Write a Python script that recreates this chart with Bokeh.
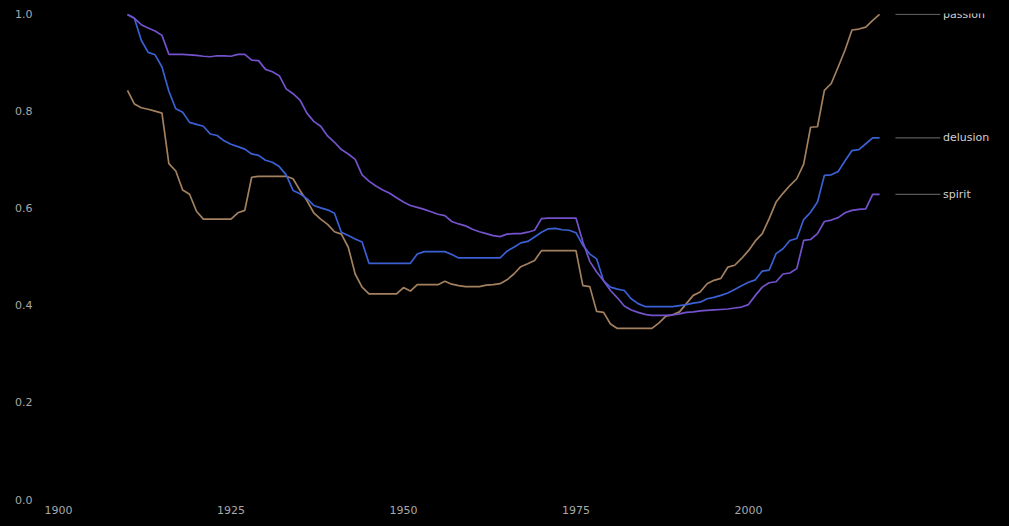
from bokeh.plotting import figure
from bokeh.models import Range1d, FixedTicker, ColumnDataSource
from bokeh.core.properties import value
from bokeh.embed import file_html
from bokeh.resources import INLINE

years = list(range(1910, 2020))

passion = [
    0.842, 0.814, 0.806, 0.803, 0.799, 0.795, 0.691, 0.676, 0.637, 0.628,
    0.593, 0.577, 0.577, 0.577, 0.577, 0.577, 0.590, 0.595, 0.663, 0.665,
    0.665, 0.665, 0.665, 0.665, 0.660, 0.636, 0.615, 0.590, 0.577, 0.566,
    0.551, 0.546, 0.519, 0.464, 0.437, 0.423, 0.423, 0.423, 0.423, 0.423,
    0.436, 0.429, 0.442, 0.442, 0.442, 0.442, 0.449, 0.443, 0.440, 0.438,
    0.438, 0.438, 0.441, 0.442, 0.444, 0.452, 0.464, 0.479, 0.485, 0.492,
    0.512, 0.512, 0.512, 0.512, 0.512, 0.512, 0.440, 0.438, 0.387, 0.385,
    0.361, 0.352, 0.352, 0.352, 0.352, 0.352, 0.352, 0.363, 0.377, 0.380,
    0.386, 0.403, 0.420, 0.427, 0.444, 0.451, 0.455, 0.478, 0.482, 0.496,
    0.512, 0.532, 0.547, 0.578, 0.612, 0.630, 0.646, 0.660, 0.690, 0.766,
    0.767, 0.842, 0.856, 0.890, 0.925, 0.966, 0.968, 0.972, 0.986, 0.998,
]

delusion = [
    0.998, 0.990, 0.945, 0.920, 0.915, 0.890, 0.840, 0.804, 0.797, 0.776,
    0.772, 0.768, 0.752, 0.749, 0.738, 0.731, 0.726, 0.721, 0.711, 0.708,
    0.698, 0.694, 0.685, 0.668, 0.636, 0.629, 0.619, 0.605, 0.600, 0.596,
    0.589, 0.550, 0.543, 0.536, 0.530, 0.486, 0.486, 0.486, 0.486, 0.486,
    0.486, 0.486, 0.505, 0.510, 0.510, 0.510, 0.510, 0.504, 0.497, 0.497,
    0.497, 0.497, 0.497, 0.497, 0.497, 0.511, 0.519, 0.528, 0.531, 0.540,
    0.550, 0.557, 0.558, 0.555, 0.554, 0.549, 0.523, 0.505, 0.495, 0.450,
    0.437, 0.433, 0.430, 0.413, 0.403, 0.397, 0.397, 0.397, 0.397, 0.397,
    0.399, 0.401, 0.404, 0.406, 0.413, 0.416, 0.420, 0.425, 0.432, 0.440,
    0.447, 0.452, 0.470, 0.472, 0.506, 0.516, 0.533, 0.537, 0.576, 0.591,
    0.612, 0.667, 0.668, 0.675, 0.697, 0.718, 0.720, 0.732, 0.744, 0.744,
]

spirit = [
    0.998, 0.990, 0.977, 0.970, 0.964, 0.955, 0.916, 0.916, 0.916, 0.915,
    0.914, 0.912, 0.911, 0.913, 0.913, 0.912, 0.916, 0.916, 0.904, 0.903,
    0.885, 0.880, 0.872, 0.845, 0.835, 0.822, 0.795, 0.778, 0.768, 0.748,
    0.735, 0.720, 0.711, 0.700, 0.668, 0.655, 0.645, 0.637, 0.630, 0.621,
    0.612, 0.605, 0.601, 0.597, 0.592, 0.587, 0.584, 0.572, 0.567, 0.563,
    0.556, 0.551, 0.547, 0.543, 0.541, 0.546, 0.547, 0.547, 0.550, 0.554,
    0.578, 0.579, 0.579, 0.579, 0.579, 0.579, 0.530, 0.490, 0.468, 0.450,
    0.430, 0.415, 0.398, 0.390, 0.385, 0.381, 0.379, 0.379, 0.379, 0.380,
    0.382, 0.385, 0.386, 0.388, 0.389, 0.390, 0.391, 0.392, 0.394, 0.396,
    0.401, 0.420, 0.437, 0.446, 0.448, 0.464, 0.466, 0.475, 0.533, 0.535,
    0.547, 0.572, 0.575, 0.580, 0.590, 0.595, 0.597, 0.598, 0.628, 0.628,
]

series_names = ["passion", "delusion", "spirit"]
series_values = [passion, delusion, spirit]
series_colors = ["#a38060", "#3a60d4", "#7352cc"]

x_ticks = [1900, 1925, 1950, 1975, 2000]
y_ticks = [0.0, 0.2, 0.4, 0.6, 0.8, 1.0]

FONT = "DejaVu Sans"

p = figure(
    frame_width=950, frame_height=486,
    min_border_left=45, min_border_right=6, min_border_top=13, min_border_bottom=20,
    x_range=Range1d(1898.12, 2035.8), y_range=Range1d(0, 1.0),
    output_backend="svg", toolbar_location=None,
    background_fill_color="black", border_fill_color="black",
)
p.outline_line_color = None
p.grid.visible = False

for ax in (p.xaxis[0], p.yaxis[0]):
    ax.axis_line_color = None
    ax.major_tick_line_color = None
    ax.minor_tick_line_color = None
    ax.major_label_text_color = "#a8a8a8"
    ax.major_label_text_font = FONT
    ax.major_label_text_font_size = "11px"

p.xaxis[0].ticker = FixedTicker(ticks=x_ticks)
p.xaxis[0].major_label_standoff = 0
p.yaxis[0].ticker = FixedTicker(ticks=y_ticks)
p.yaxis[0].major_label_overrides = {t: f"{t:.1f}" for t in y_ticks}
p.yaxis[0].major_label_standoff = 7

for name, vals, col in zip(series_names, series_values, series_colors):
    p.line(years, vals, line_color=col, line_width=1.7)

# direct labels at the end of each series
last_year = years[-1]
lab_src = ColumnDataSource(dict(
    x0=[last_year + 2.3] * 3,
    x1=[last_year + 8.8] * 3,
    xt=[last_year + 9.2] * 3,
    y=[v[-1] for v in series_values],
    name=series_names,
))
p.segment(x0="x0", y0="y", x1="x1", y1="y", source=lab_src,
          line_color="#5a5a5a", line_width=1.2)
p.text(x="xt", y="y", text="name", source=lab_src,
       text_color="#d0d0d0", text_font=value(FONT), text_font_size="11px",
       text_align="left", text_baseline="middle")

html = file_html(p, INLINE)
html = html.replace("<head>", "<head><style>html,body{background:#000;}</style>", 1)
open("out.html", "w").write(html)
